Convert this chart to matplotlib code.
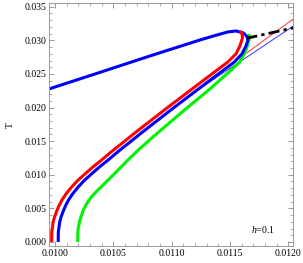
import matplotlib
matplotlib.use("Agg")
import matplotlib.pyplot as plt
from matplotlib.ticker import MultipleLocator, FormatStrFormatter

# thick red branch
red_x = [0.009972, 0.009973, 0.009985, 0.009996, 0.010012, 0.010032, 0.010060, 0.010097,
         0.010143, 0.010192, 0.010257, 0.010328, 0.010400, 0.010485, 0.010572, 0.010668,
         0.010960, 0.011243, 0.011482, 0.011551, 0.011585, 0.011607, 0.011602, 0.011585]
red_T = [0.0000, 0.00149, 0.00298, 0.00370, 0.00446, 0.00530, 0.00625, 0.00720,
         0.00818, 0.00910, 0.01012, 0.01120, 0.01220, 0.01345, 0.01464, 0.01600,
         0.01994, 0.02366, 0.02679, 0.02798, 0.02917, 0.03036, 0.03103, 0.03140]

# thick blue branch (lower + upper)
blue_x = [0.010028, 0.010029, 0.010041, 0.010052, 0.010068, 0.010088, 0.010116, 0.010153,
          0.010199, 0.010248, 0.010313, 0.010384, 0.010456, 0.010541, 0.010627, 0.010724,
          0.011015, 0.011298, 0.011538, 0.011602, 0.011637, 0.011654,
          0.011645, 0.011615, 0.011551, 0.011482, 0.011388, 0.011243, 0.010814, 0.010386,
          0.009949]
blue_T = [0.0000, 0.00149, 0.00298, 0.00370, 0.00446, 0.00530, 0.00625, 0.00720,
          0.00818, 0.00910, 0.01012, 0.01120, 0.01220, 0.01345, 0.01464, 0.01600,
          0.01994, 0.02366, 0.02679, 0.02798, 0.02917, 0.03006,
          0.03058, 0.03110, 0.03140, 0.03125, 0.03080, 0.03006, 0.02768, 0.02524,
          0.02277]

# thick green branch
green_x = [0.010195, 0.010197, 0.010214, 0.010243, 0.010275, 0.010314, 0.010372, 0.010430,
           0.010518, 0.010608, 0.010715, 0.010830, 0.011100, 0.011328, 0.011482, 0.011585,
           0.011637, 0.011662, 0.011666]
green_T = [0.0000, 0.00179, 0.00327, 0.00476, 0.00580, 0.00674, 0.00780, 0.00878,
           0.01030, 0.01190, 0.01370, 0.01548, 0.01949, 0.02277, 0.02515, 0.02679,
           0.02857, 0.03006, 0.03095]

# thin lines
thin_red_x = [0.01130, 0.01204]
thin_red_T = [0.02379, 0.03315]
thin_blue_x = [0.01120, 0.01204]
thin_blue_T = [0.02235, 0.03210]

# black dash-dot
black_x = [0.011640, 0.01204]
black_T = [0.03030, 0.03185]

plt.rcParams['font.family'] = ['Liberation Serif', 'DejaVu Serif']
plt.rcParams['mathtext.fontset'] = 'custom'
plt.rcParams['mathtext.it'] = 'Liberation Serif:italic'
plt.rcParams['mathtext.rm'] = 'Liberation Serif'

fig = plt.figure(figsize=(3.03, 2.63), dpi=100)
ax = fig.add_axes([0.1617, 0.0646, 0.805, 0.923])

ax.plot(thin_blue_x, thin_blue_T, color=(0.2, 0.2, 1.0), lw=0.7)
ax.plot(thin_red_x, thin_red_T, color=(1.0, 0.2, 0.2), lw=0.7)
ax.plot(green_x, green_T, color=(0.0, 0.95, 0.0), lw=2.2,
        solid_joinstyle='round', solid_capstyle='butt')
ax.plot(blue_x, blue_T, color=(0.0, 0.0, 1.0), lw=2.2,
        solid_joinstyle='round', solid_capstyle='butt')
ax.plot(red_x, red_T, color=(1.0, 0.0, 0.0), lw=2.2,
        solid_joinstyle='round', solid_capstyle='butt')
ax.plot(black_x, black_T, color='black', lw=2.0, dashes=(4, 1.5, 1.2, 1.5))

ax.set_xlim(0.009949, 0.012039)
ax.set_ylim(-0.0006, 0.03552)

ax.xaxis.set_major_locator(MultipleLocator(0.0005))
ax.xaxis.set_minor_locator(MultipleLocator(0.0001))
ax.yaxis.set_major_locator(MultipleLocator(0.005))
ax.yaxis.set_minor_locator(MultipleLocator(0.001))
ax.xaxis.set_major_formatter(FormatStrFormatter('%.4f'))
ax.yaxis.set_major_formatter(FormatStrFormatter('%.3f'))

ax.tick_params(which='both', direction='in', top=True, right=True,
               color='#888888', labelsize=7, pad=2)
ax.tick_params(which='major', length=3.5, width=0.6)
ax.tick_params(which='minor', length=2, width=0.5)
for s in ax.spines.values():
    s.set_color('#999999')
    s.set_linewidth(0.7)

ax.set_ylabel('T', fontsize=7, labelpad=7)
ax.text(0.877, 0.07, r'$h$=0.1', transform=ax.transAxes, fontsize=7,
        ha='center', va='center')

fig.savefig('out.png', dpi=100)
